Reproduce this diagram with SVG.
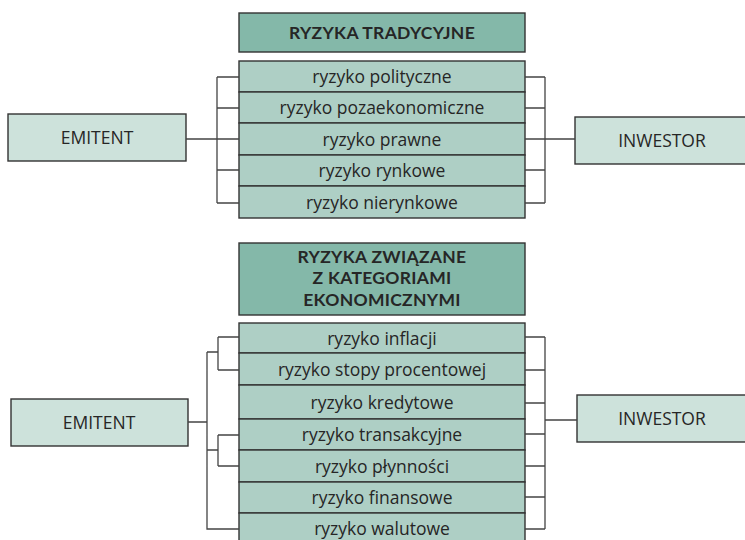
<svg xmlns="http://www.w3.org/2000/svg" width="745" height="540" viewBox="0 0 745 540">
<style>
.hdr{fill:#84b8a9;stroke:#333;stroke-width:1.4}
.row{fill:#aecfc5;stroke:#333;stroke-width:1.4}
.side{fill:#cde2db;stroke:#333;stroke-width:1.4}
.ln{fill:none;stroke:#444;stroke-width:1.3}
text{font-family:"Open Sans","Noto Sans",sans-serif;fill:#262626;text-anchor:middle;dominant-baseline:central;font-size:17.5px}
.b{font-family:Lato,"Open Sans",sans-serif;font-weight:bold;font-size:17.5px;letter-spacing:0.3px}
</style>
<rect width="745" height="540" fill="#fff"/>
<g id="hdr1"><rect class="hdr" x="239" y="13" width="286" height="39"/><text class="b" x="382" y="32">RYZYKA TRADYCYJNE</text></g>
<g id="r1"><rect class="row" x="239" y="61" width="286" height="31"/><text x="382" y="76">ryzyko polityczne</text></g>
<g id="r2"><rect class="row" x="239" y="92" width="286" height="31"/><text x="382" y="107">ryzyko pozaekonomiczne</text></g>
<g id="r3"><rect class="row" x="239" y="123" width="286" height="32"/><text x="382" y="138.5">ryzyko prawne</text></g>
<g id="r4"><rect class="row" x="239" y="155" width="286" height="31"/><text x="382" y="170">ryzyko rynkowe</text></g>
<g id="r5"><rect class="row" x="239" y="186" width="286" height="32"/><text x="382" y="201.5">ryzyko nierynkowe</text></g>
<g id="emitent1"><rect class="side" x="8" y="114" width="178" height="47"/><text x="97" y="137">EMITENT</text></g>
<g id="inwestor1"><rect class="side" x="575" y="117" width="175" height="47"/><text x="662" y="140">INWESTOR</text></g>

<g id="hdr2"><rect class="hdr" x="239" y="243" width="286" height="72"/><text class="b" x="382" y="256">RYZYKA ZWIĄZANE</text><text class="b" x="382" y="277.5">Z KATEGORIAMI</text><text class="b" x="382" y="299">EKONOMICZNYMI</text></g>
<g id="s1"><rect class="row" x="239" y="323" width="286" height="30"/><text x="382" y="337.5">ryzyko inflacji</text></g>
<g id="s2"><rect class="row" x="239" y="353" width="286" height="32"/><text x="382" y="368.5">ryzyko stopy procentowej</text></g>
<g id="s3"><rect class="row" x="239" y="385" width="286" height="34"/><text x="382" y="401.5">ryzyko kredytowe</text></g>
<g id="s4"><rect class="row" x="239" y="419" width="286" height="31"/><text x="382" y="433.5">ryzyko transakcyjne</text></g>
<g id="s5"><rect class="row" x="239" y="450" width="286" height="32"/><text x="382" y="465.5">ryzyko płynności</text></g>
<g id="s6"><rect class="row" x="239" y="482" width="286" height="31"/><text x="382" y="497">ryzyko finansowe</text></g>
<g id="s7"><rect class="row" x="239" y="513" width="286" height="40"/><text x="382" y="528">ryzyko walutowe</text></g>
<g id="emitent2"><rect class="side" x="11" y="399" width="177" height="47"/><text x="99" y="421.5">EMITENT</text></g>
<g id="inwestor2"><rect class="side" x="577" y="395" width="173" height="47"/><text x="662" y="418">INWESTOR</text></g>

<g id="connectors">
<path class="ln" d="M186 139H239M217 77V203M217 77H239M217 108H239M217 170H239M217 203H239"/>
<path class="ln" d="M525 139H575M545 77V203M525 77H545M525 108H545M525 170H545M525 203H545"/>
<path class="ln" d="M188 422H207M207 352V529H239M207 352H218M218 337V370M218 337H239M218 370H239M207 450H218M218 435V466M218 435H239M218 466H239"/>
<path class="ln" d="M545 420H577M545 337V529M525 337H545M525 370H545M525 403H545M525 434H545M525 466H545M525 497H545M525 529H545"/>
</g>
</svg>
